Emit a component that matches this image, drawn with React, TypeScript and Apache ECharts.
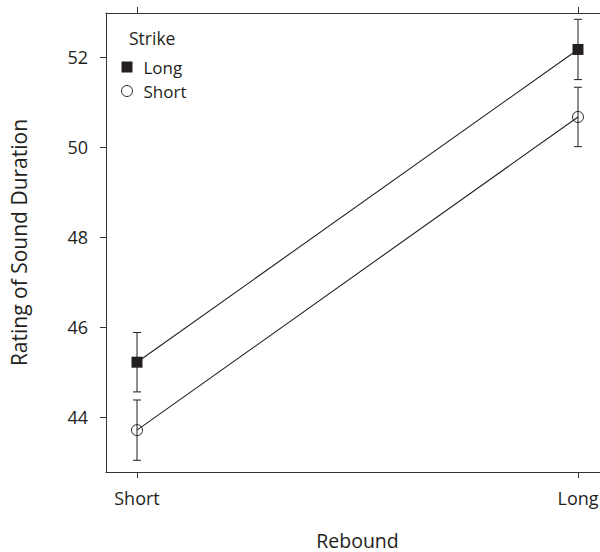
import React, { useEffect, useRef } from "react";
import * as echarts from "echarts";

const reboundLabels = ["Short", "Long"];
const strikeNames = ["Long", "Short"];
const longStrikeMeans = [45.22, 52.17];
const longStrikeErr = [0.66, 0.67];
const shortStrikeMeans = [43.71, 50.67];
const shortStrikeErr = [0.67, 0.66];
const yTicks = [44, 46, 48, 50, 52];

const INK = "#231f20";
const FONT = "'Open Sans', 'Noto Sans', sans-serif";

export default function App() {
  const ref = useRef<HTMLDivElement>(null);
  useEffect(() => {
    if (!ref.current) return;
    const chart = echarts.init(ref.current, null, { renderer: "svg" });
    const xIdx = reboundLabels.map((_, i) => i);
    const errData = [
      ...xIdx.map((i) => [i, longStrikeMeans[i] - longStrikeErr[i], longStrikeMeans[i] + longStrikeErr[i]]),
      ...xIdx.map((i) => [i, shortStrikeMeans[i] - shortStrikeErr[i], shortStrikeMeans[i] + shortStrikeErr[i]]),
    ];
    const xMin = -0.0703;
    const xMax = 1.0703;
    chart.setOption({
      animation: false,
      backgroundColor: "#fff",
      textStyle: { fontFamily: FONT },
      grid: { left: 106, top: 13, right: -9, bottom: 80, outerBoundsMode: "none", containLabel: false },
      xAxis: [
        {
          type: "value",
          min: xMin,
          max: xMax,
          position: "bottom",
          name: "Rebound",
          nameLocation: "middle",
          nameGap: 59,
          nameTextStyle: { fontSize: 19.5, lineHeight: 18, color: INK, fontFamily: FONT },
          splitLine: { show: false },
          axisLine: { show: true, onZero: false, lineStyle: { color: "#333", width: 1 } },
          axisTick: { show: true, length: 6, customValues: xIdx, lineStyle: { color: "#333" } },
          axisLabel: {
            customValues: xIdx,
            formatter: (v: number) => reboundLabels[Math.round(v)] ?? "",
            fontSize: 18,
            color: INK,
            margin: 17,
            fontFamily: FONT,
          },
        },
        {
          type: "value",
          min: xMin,
          max: xMax,
          position: "top",
          splitLine: { show: false },
          axisLine: { show: true, onZero: false, lineStyle: { color: "#333", width: 1 } },
          axisTick: { show: true, length: 6, customValues: xIdx, lineStyle: { color: "#333" } },
          axisLabel: { show: false },
        },
      ],
      yAxis: {
        type: "value",
        min: 42.78,
        max: 52.98,
        name: "Rating of Sound Duration",
        nameLocation: "middle",
        nameGap: 77,
        nameTextStyle: { fontSize: 21, color: INK, fontFamily: FONT },
        splitLine: { show: false },
        axisLine: { show: true, onZero: false, lineStyle: { color: "#333", width: 1 } },
        axisTick: { show: true, length: 6, customValues: yTicks, lineStyle: { color: "#333" } },
        axisLabel: { customValues: yTicks, fontSize: 18, color: INK, margin: 18, fontFamily: FONT },
      },
      legend: {
        orient: "vertical",
        left: 121,
        top: 58.5,
        padding: 0,
        itemWidth: 11,
        itemHeight: 11,
        itemGap: 7,
        textStyle: { fontSize: 17, color: INK, fontFamily: FONT, padding: [0, 0, 0, 6] },
        data: [
          { name: strikeNames[0], icon: "rect", itemStyle: { color: INK, borderWidth: 0 } },
          { name: strikeNames[1], icon: "circle", itemStyle: { color: "#fff", borderColor: INK, borderWidth: 1 } },
        ],
      },
      graphic: [
        {
          type: "text",
          left: 129,
          top: 29,
          style: { text: "Strike", fontSize: 17.5, fill: INK, fontFamily: FONT },
        },
      ],
      series: [
        {
          type: "custom",
          name: "err",
          xAxisIndex: 0,
          data: errData,
          z: 1,
          renderItem: (params: any, api: any) => {
            const x = api.value(0);
            const lo = api.coord([x, api.value(1)]);
            const hi = api.coord([x, api.value(2)]);
            const half = 4;
            const style = { stroke: INK, lineWidth: 1 };
            return {
              type: "group",
              children: [
                { type: "line", shape: { x1: lo[0], y1: lo[1], x2: hi[0], y2: hi[1] }, style },
                { type: "line", shape: { x1: lo[0] - half, y1: lo[1], x2: lo[0] + half, y2: lo[1] }, style },
                { type: "line", shape: { x1: hi[0] - half, y1: hi[1], x2: hi[0] + half, y2: hi[1] }, style },
              ],
            };
          },
        },
        {
          type: "line",
          name: strikeNames[0],
          data: xIdx.map((i) => [i, longStrikeMeans[i]]),
          symbol: "rect",
          symbolSize: 11,
          z: 3,
          lineStyle: { color: INK, width: 1.1 },
          itemStyle: { color: INK },
        },
        {
          type: "line",
          name: strikeNames[1],
          data: xIdx.map((i) => [i, shortStrikeMeans[i]]),
          symbol: "circle",
          symbolSize: 11,
          z: 3,
          lineStyle: { color: INK, width: 1.1 },
          itemStyle: { color: "rgba(0,0,0,0)", borderColor: INK, borderWidth: 1 },
        },
      ],
    });
    return () => chart.dispose();
  }, []);
  return <div ref={ref} style={{ width: 600, height: 552, position: "fixed", left: 0, top: 0 }} />;
}
